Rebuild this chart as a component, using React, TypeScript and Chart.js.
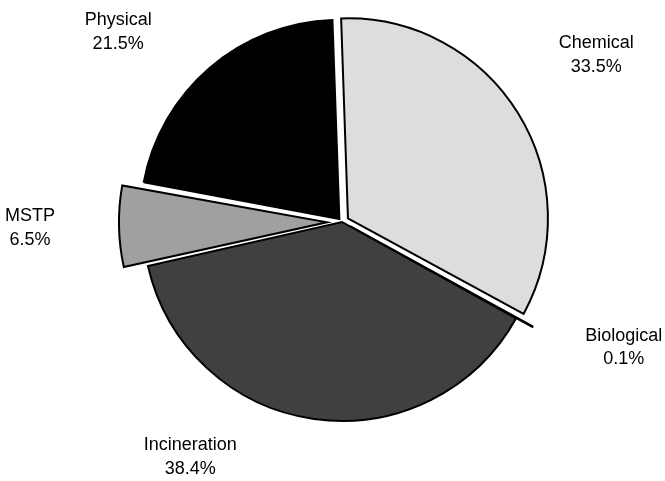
import React, { useEffect, useRef } from "react";
import { Chart, registerables } from "chart.js";

Chart.register(...registerables);

// Waste treatment shares (%), clockwise from the top
const categories = ["Chemical", "Biological", "Incineration", "MSTP", "Physical"];
const shares = [33.5, 0.1, 38.4, 6.5, 21.5];
const valueLabels = ["33.5%", "0.1%", "38.4%", "6.5%", "21.5%"];

// Slice appearance (Chart.js scales the offset down when drawing an arc)
const sliceColors = ["#dddddd", "#ffffff", "#404040", "#a0a0a0", "#000000"];
const sliceOffsets = [28, 36, 0, 60, 16];
const sliceBorders = [2, 2.5, 2, 2, 2];

// Label placement: [angle shift from slice middle (deg), distance as multiple of radius]
const labelPlacement: [number, number][] = [
  [-1.6, 1.528],
  [-4.8, 1.55],
  [24.8, 1.405],
  [0, 1.568],
  [-9.0, 1.475],
];

const sliceLabelPlugin = {
  id: "sliceLabels",
  afterDatasetsDraw(chart: any) {
    const ctx = chart.ctx;
    const meta = chart.getDatasetMeta(0);
    ctx.save();
    ctx.font = '18px "Liberation Sans", Arial, sans-serif';
    ctx.fillStyle = "#000000";
    ctx.textAlign = "center";
    ctx.textBaseline = "middle";
    meta.data.forEach((arc: any, i: number) => {
      const { x, y, startAngle, endAngle, outerRadius } = arc.getProps(
        ["x", "y", "startAngle", "endAngle", "outerRadius"],
        true
      );
      const [shift, dist] = labelPlacement[i];
      const a = (startAngle + endAngle) / 2 + (shift * Math.PI) / 180;
      const lx = x + Math.cos(a) * outerRadius * dist;
      const ly = y + Math.sin(a) * outerRadius * dist;
      ctx.fillText(categories[i], lx, ly - 11.75);
      ctx.fillText(valueLabels[i], lx, ly + 11.75);
    });
    ctx.restore();
  },
};

export default function App() {
  const canvasRef = useRef<HTMLCanvasElement | null>(null);

  useEffect(() => {
    if (!canvasRef.current) return;
    const chart = new Chart(canvasRef.current, {
      type: "pie",
      data: {
        labels: categories,
        datasets: [
          {
            data: shares,
            backgroundColor: sliceColors,
            borderColor: "#000000",
            borderWidth: sliceBorders,
            borderJoinStyle: "miter",
            offset: sliceOffsets,
          },
        ],
      },
      options: {
        responsive: false,
        maintainAspectRatio: false,
        animation: false,
        rotation: -2,
        radius: 199,
        layout: { padding: { left: 19, right: 0, top: 0, bottom: 37 } },
        plugins: {
          legend: { display: false },
          tooltip: { enabled: false },
        },
      },
      plugins: [sliceLabelPlugin],
    } as any);
    return () => chart.destroy();
  }, []);

  return (
    <div style={{ position: "absolute", left: 0, top: 0, width: 665, height: 481, background: "#ffffff" }}>
      <canvas ref={canvasRef} width={665} height={481} style={{ width: 665, height: 481 }} />
    </div>
  );
}
